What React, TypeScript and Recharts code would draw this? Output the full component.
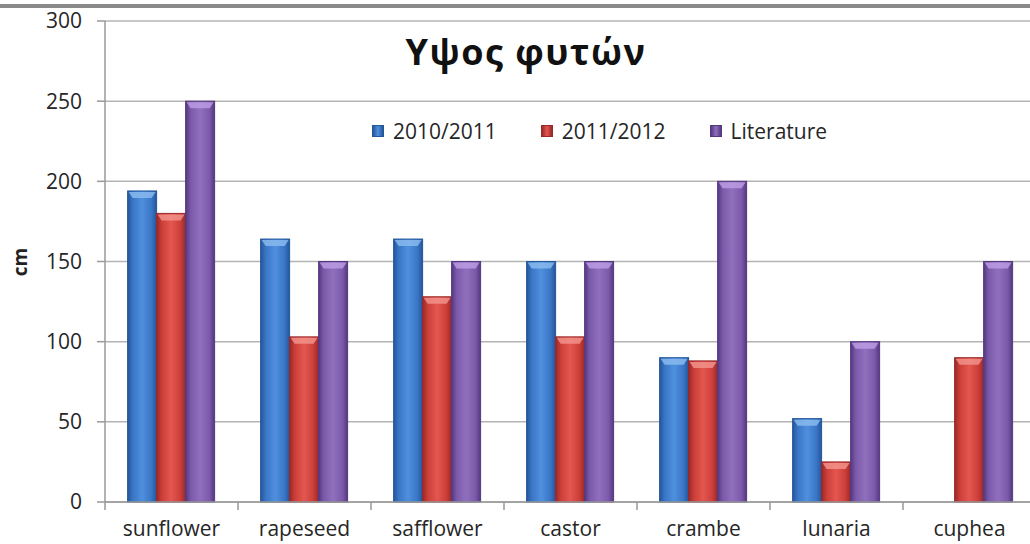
import { Bar, BarChart, CartesianGrid, XAxis, YAxis } from "recharts";

const crops = ["sunflower", "rapeseed", "safflower", "castor", "crambe", "lunaria", "cuphea"];
const season2010 = [194, 164, 164, 150, 90, 52, null];
const season2011 = [180, 103, 128, 103, 88, 25, 90];
const literature = [250, 150, 150, 150, 200, 100, 150];
const yTicks = [0, 50, 100, 150, 200, 250, 300];

const data = crops.map((c, i) => ({
  crop: c,
  s1: season2010[i],
  s2: season2011[i],
  lit: literature[i],
}));

const series = [
  { key: "s1", name: "2010/2011", light: "#4f90de", mid: "#3a76c6", dark: "#24569a", cap: "#8dbdf0" },
  { key: "s2", name: "2011/2012", light: "#e45650", mid: "#cc3e38", dark: "#98292a", cap: "#f49690" },
  { key: "lit", name: "Literature", light: "#9070bd", mid: "#7c5aab", dark: "#55387f", cap: "#bea0e6" },
];

const FONT = "'Open Sans', 'DejaVu Sans', sans-serif";
const BAND = 931 / crops.length;

function BevelBar(props: any) {
  const { x, y, width, height, s } = props;
  if (!height || height <= 0) return null;
  const cap = Math.min(7, height / 2);
  return (
    <g>
      <rect x={x} y={y} width={width} height={height} fill={`url(#g-${s.key})`} stroke={s.dark} strokeWidth={1} />
      <polygon
        points={`${x + 1},${y + 1} ${x + width - 1},${y + 1} ${x + width - 5},${y + cap} ${x + 5},${y + cap}`}
        fill={s.cap}
        opacity={0.8}
      />
    </g>
  );
}

function CropTick(props: any) {
  const { x, y, payload } = props;
  const left = x - BAND / 2;
  return (
    <g>
      <line x1={left} y1={y} x2={left} y2={y + 8} stroke="#999" strokeWidth={1.5} />
      <text x={x} y={y + 34} textAnchor="middle" fontSize={21} fill="#262626" fontFamily={FONT}>
        {payload.value}
      </text>
    </g>
  );
}

function LegendBox() {
  return (
    <div
      style={{
        position: "absolute",
        left: 372,
        top: 117,
        display: "flex",
        alignItems: "center",
        fontSize: 21,
        color: "#262626",
      }}
    >
      {series.map((s) => (
        <div key={s.key} style={{ display: "flex", alignItems: "center", marginRight: 44 }}>
          <span
            style={{
              display: "inline-block",
              width: 12,
              height: 12,
              marginRight: 9,
              background: `linear-gradient(to right, ${s.dark}, ${s.light}, ${s.dark})`,
              border: `1px solid ${s.dark}`,
              boxSizing: "border-box",
            }}
          />
          {s.name}
        </div>
      ))}
    </div>
  );
}

export default function App() {
  return (
    <div
      style={{
        position: "fixed",
        left: 0,
        top: 0,
        width: 1030,
        height: 544,
        overflow: "hidden",
        background: "#fff",
        fontFamily: FONT,
      }}
    >
      <div style={{ position: "absolute", left: 0, top: 4, width: 1030, height: 4, background: "#8a8a8a" }} />
      <BarChart
        width={1045}
        height={544}
        data={data}
        margin={{ top: 21, right: 9, bottom: 12, left: 0 }}
        barCategoryGap="17%"
        barGap={0}
      >
        <defs>
          {series.map((s) => (
            <linearGradient key={s.key} id={`g-${s.key}`} x1="0" y1="0" x2="1" y2="0">
              <stop offset="0%" stopColor={s.dark} />
              <stop offset="18%" stopColor={s.mid} />
              <stop offset="50%" stopColor={s.light} />
              <stop offset="82%" stopColor={s.mid} />
              <stop offset="100%" stopColor={s.dark} />
            </linearGradient>
          ))}
        </defs>
        <CartesianGrid vertical={false} stroke="#b4b4b4" strokeWidth={1.5} />
        <XAxis
          dataKey="crop"
          height={30}
          interval={0}
          tickSize={0}
          tickMargin={0}
          tick={<CropTick />}
          axisLine={{ stroke: "#999", strokeWidth: 1.5 }}
          tickLine={false}
        />
        <YAxis
          width={105}
          domain={[0, 300]}
          ticks={yTicks}
          tickSize={8}
          tickMargin={15}
          tick={{ fontSize: 21, fill: "#262626", fontFamily: FONT }}
          axisLine={{ stroke: "#999", strokeWidth: 1.5 }}
          tickLine={{ stroke: "#999", strokeWidth: 1.5 }}
        />
        {series.map((s) => (
          <Bar
            key={s.key}
            dataKey={s.key}
            name={s.name}
            fill={s.mid}
            isAnimationActive={false}
            shape={(p: any) => <BevelBar {...p} s={s} />}
          />
        ))}
      </BarChart>
      <div
        style={{
          position: "absolute",
          left: 0,
          top: 27,
          width: 1052,
          textAlign: "center",
          fontSize: 36,
          fontWeight: 700,
          letterSpacing: 1.5,
          color: "#111",
        }}
      >
        Υψος φυτών
      </div>
      <div
        style={{
          position: "absolute",
          left: 20,
          top: 262,
          transform: "translate(-50%, -50%) rotate(-90deg)",
          fontSize: 19,
          fontWeight: 700,
          color: "#222",
          lineHeight: 1,
        }}
      >
        cm
      </div>
      <LegendBox />
    </div>
  );
}
